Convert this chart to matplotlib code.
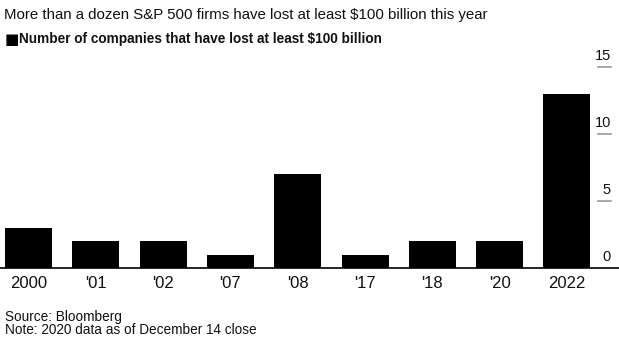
import matplotlib
matplotlib.use("Agg")
import matplotlib.pyplot as plt
import matplotlib.transforms as mtransforms

# Data
years = ["2000", "'01", "'02", "'07", "'08", "'17", "'18", "'20", "2022"]
companies = [3, 2, 2, 1, 7, 1, 2, 2, 13]
y_ticks = [0, 5, 10, 15]

plt.rcParams["font.family"] = ["Liberation Sans", "DejaVu Sans"]

W, H = 619, 345
fig = plt.figure(figsize=(W / 100, H / 100), dpi=100)

# axes placed in pixel terms: baseline at y=268, top at y=60
base_px = 268
top_px = 60
ax = fig.add_axes([0, (H - base_px) / H, 1, (base_px - top_px) / H])

spacing = 67.3
x = list(range(len(years)))
ax.bar(x, companies, width=47 / spacing, color="black")
ax.set_xlim(-28.5 / spacing, (W - 28.5) / spacing)
ax.set_ylim(0, (base_px - top_px) / 13.4)

for s in ["top", "right", "left"]:
    ax.spines[s].set_visible(False)
ax.spines["bottom"].set_linewidth(1.2)
ax.set_yticks([])
ax.set_xticks(x)
ax.set_xticklabels(years, fontsize=12, color="#111111")
ax.tick_params(axis="x", length=0, pad=6)

# right-hand value labels sitting above short grey dashes
trans = mtransforms.blended_transform_factory(fig.transFigure, ax.transData)
for t in y_ticks:
    if t > 0:
        ax.plot([598 / W, 611 / W], [t, t], color="#999999", lw=1.2,
                transform=trans, clip_on=False)
    ax.text(611 / W, t + 0.3, str(t), transform=trans, ha="right",
            va="bottom", fontsize=10.5, color="#111111")

fig.text(4 / W, 1 - 15 / H, "More than a dozen S&P 500 firms have lost at least $100 billion this year",
         fontsize=10.8, va="center", ha="left", color="#111111")
fig.text(5 / W, 1 - 39 / H, "\u25A0", fontsize=11, va="center", ha="left", color="black",
         family=["DejaVu Sans"])
fig.text(19 / W, 1 - 39 / H, "Number of companies that have lost at least $100 billion",
         fontsize=9.8, va="center", ha="left", color="#111111", fontweight="bold")

fig.text(5 / W, 1 - 317 / H, "Source: Bloomberg", fontsize=9.8, va="center", ha="left", color="#111111")
fig.text(5 / W, 1 - 330 / H, "Note: 2020 data as of December 14 close", fontsize=9.8, va="center",
         ha="left", color="#111111")

fig.savefig("out.png", dpi=100)
